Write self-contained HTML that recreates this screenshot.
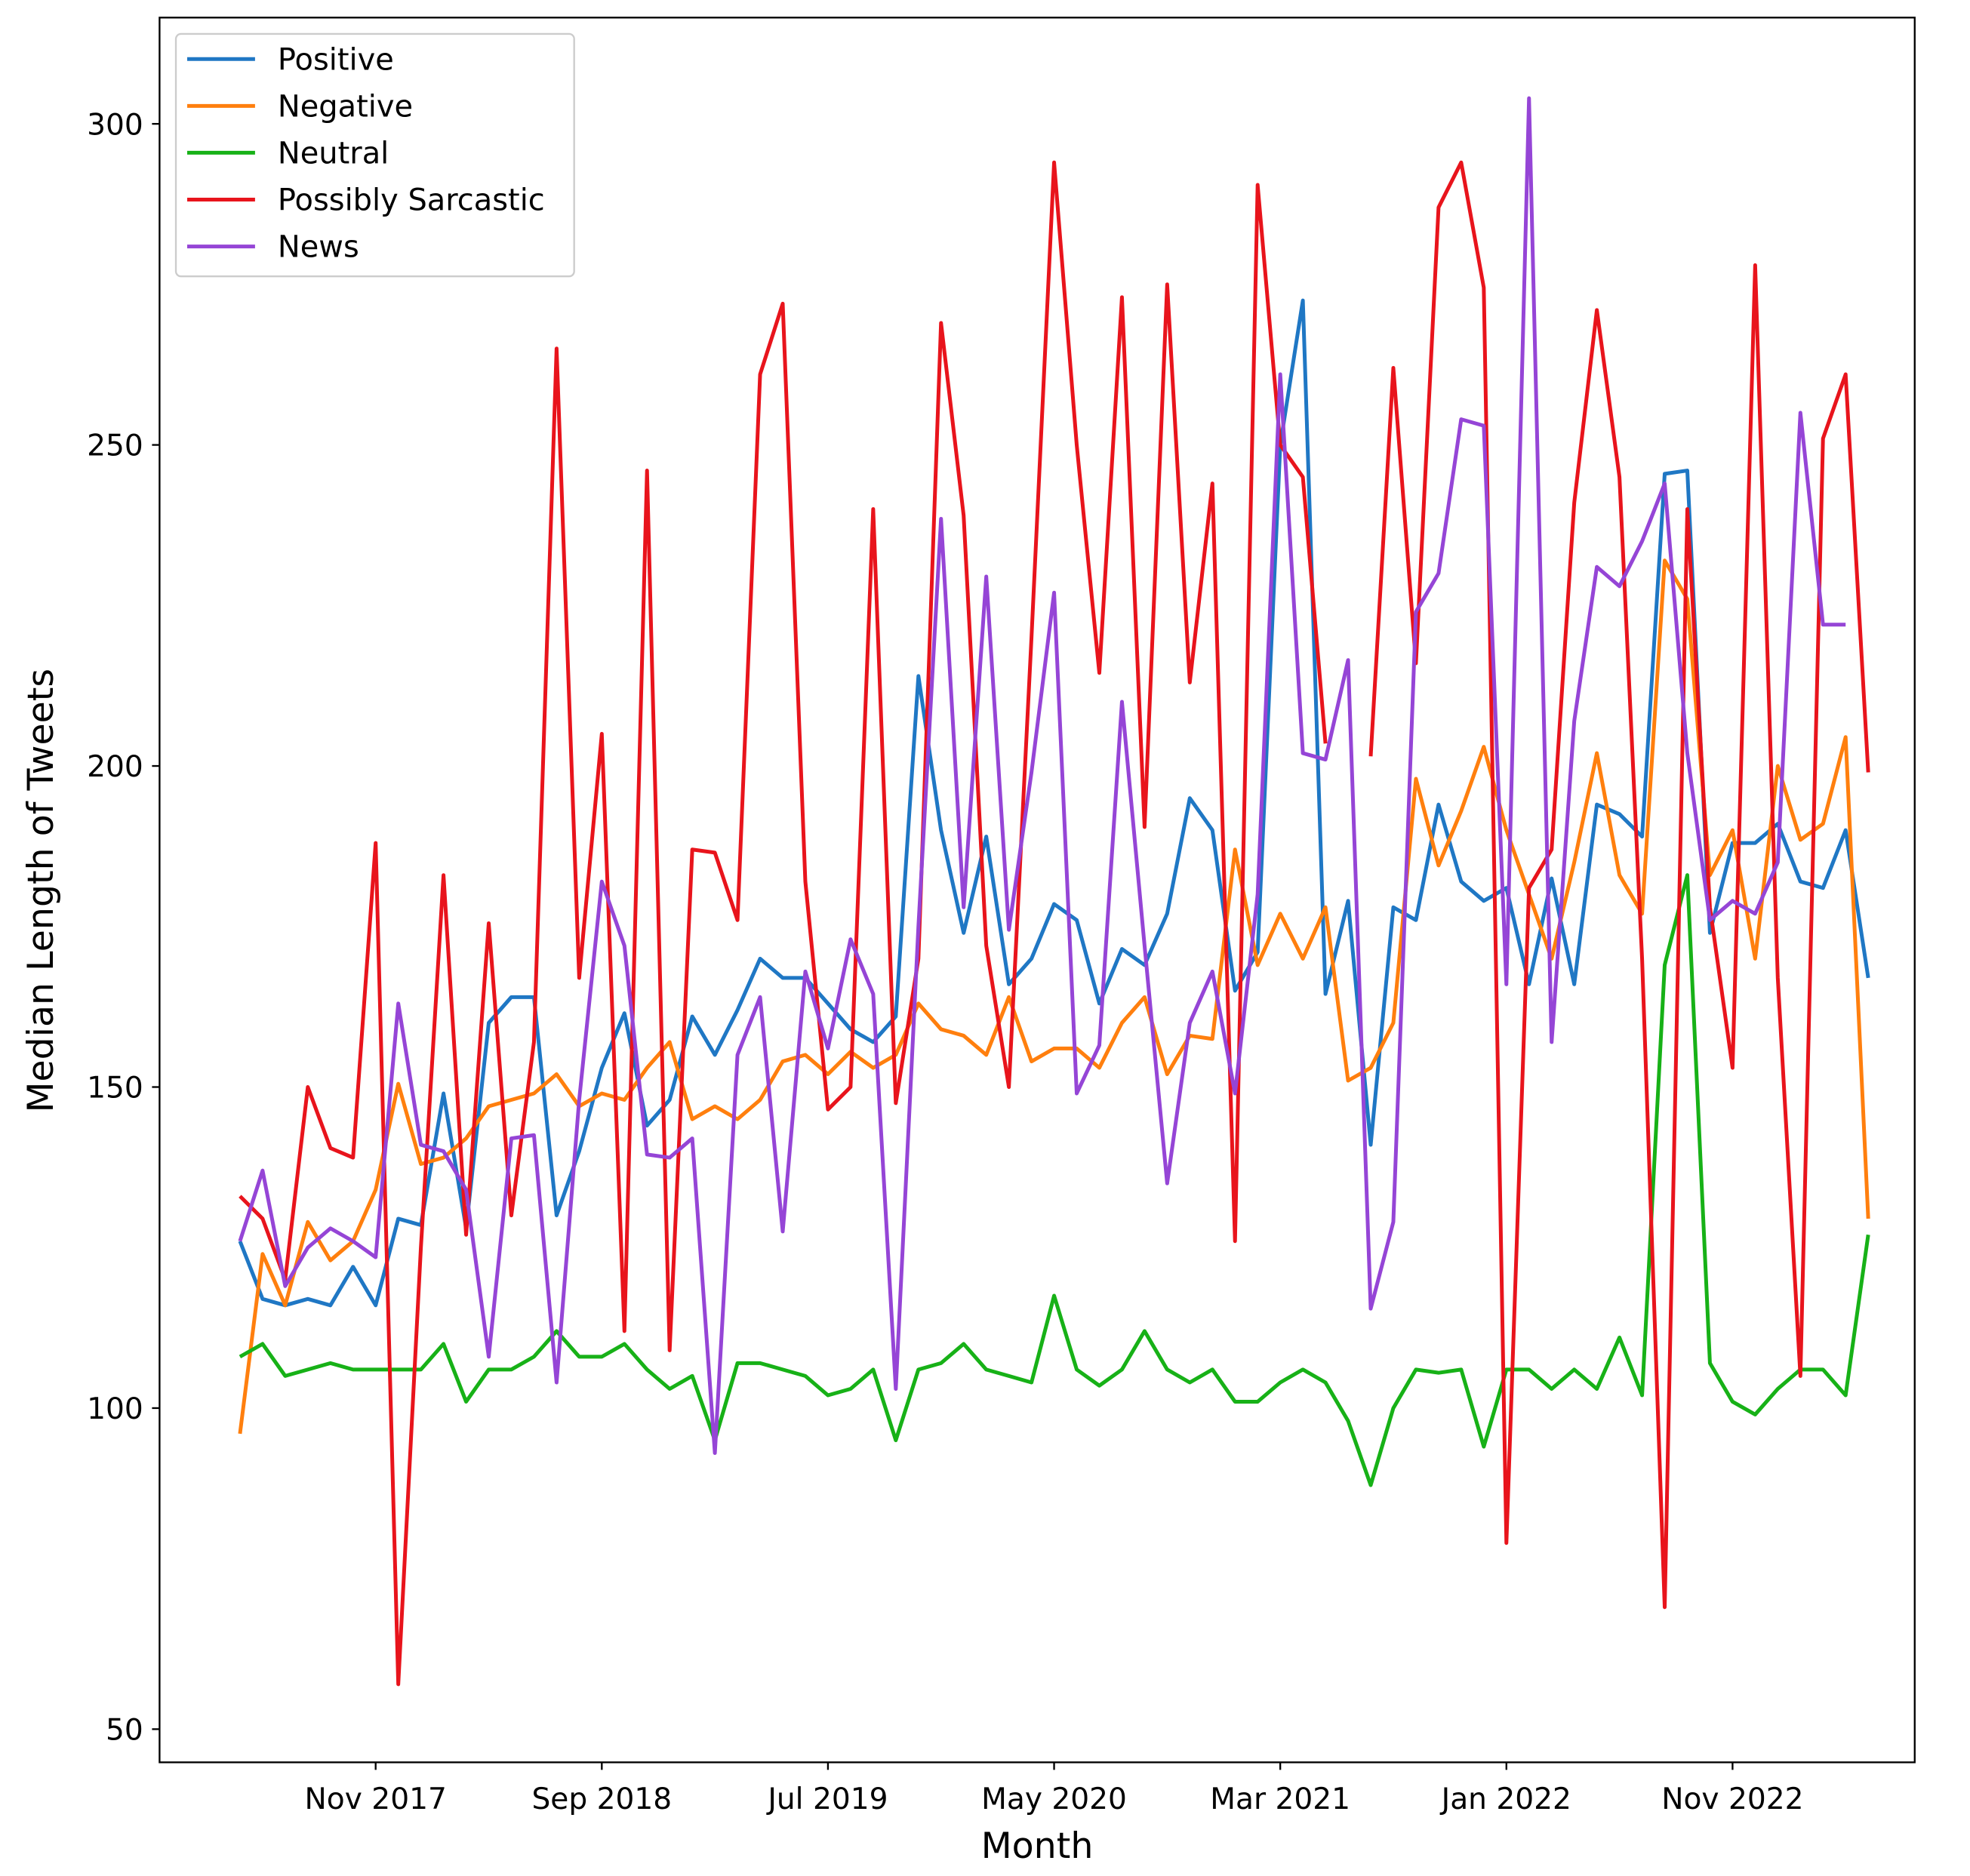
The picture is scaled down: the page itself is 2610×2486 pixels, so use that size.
<!DOCTYPE html>
<html><head><meta charset="utf-8"><style>
html,body{margin:0;padding:0;background:#fff;}
svg{display:block;font-family:"DejaVu Sans","Liberation Sans",sans-serif;}
</style></head><body>
<svg id="chart" width="2610" height="2486" viewBox="0 0 1568 1493.5" xmlns="http://www.w3.org/2000/svg">
<rect x="0" y="0" width="1568" height="1494" fill="#fff"/>
<g id="plot"></g>
</svg>
<script>
const xTickLabels = ["Nov 2017","Sep 2018","Jul 2019","May 2020","Mar 2021","Jan 2022","Nov 2022"];
const xTickIndex = [6,16,26,36,46,56,66];
const yTicks = [50,100,150,200,250,300];
const seriesNames = ["Positive","Negative","Neutral","Possibly Sarcastic","News"];
const positive = [126,117,116,117,116,122,116,129.5,128.5,149,128,160,164,164,130,140,153,161.5,144,148,161,155,162,170,167,167,163,159,157,161,214,190,174,189,166,170,178.5,176,163,171.5,169,177,195,190,165,171,250,272.5,164.5,179,141,178,176,194,182,179,181,166,182.5,166,194,192.5,189,245.5,246,174,188,188,191,182,181,190,167];
const negative = [96,124,116,129,123,126,134,150.5,138,139,142,147,148,149,152,147,149,148,153,157,145,147,145,148,154,155,152,155.5,153,155,163,159,158,155,164,154,156,156,153,160,164,152,158,157.5,187,169,177,170,178,151,153,160,198,184.5,193,203,190,180,170,185,202,183,177,232,226,183,190,170,200,188.5,191,204.5,129.5];
const neutral = [108,110,105,106,107,106,106,106,106,110,101,106,106,108,112,108,108,110,106,103,105,95,107,107,106,105,102,103,106,95,106,107,110,106,105,104,117.5,106,103.5,106,112,106,104,106,101,101,104,106,104,98,88,100,106,105.5,106,94,106,106,103,106,103,111,102,169,183,107,101,99,103,106,106,102,127];
const sarcastic = [133,129.5,120,150,140.5,139,188,57,125,183,127,175.5,130,157,265,167,205,112,246,109,187,186.5,176,261,272,182,146.5,150,240,147.5,170,269,239,172,150,220,294,250,214.5,273,190.5,275,213,244,126,290.5,250,245,203.5,null,201.5,262,216,287,294,274.5,79,181,187,241,271,245,170,69,240,178,153,278,167,105,251,261,199];
const news = [126,137,119,125,128,126,123.5,163,141,140,134,108,142,142.5,104,148,182,172,139.5,139,142,93,155,164,127.5,168,156,173,164.5,103,175,238.5,178,229.5,174.5,199,227,149,156.5,210,172,135,160,168,149,180,261,202,201,216.5,115.5,129,224,230,254,253,166,304,157,207,231,228,235,244,202,176,179,177,185,255,222,222,null];
const seriesData = [positive,negative,neutral,sarcastic,news];
const colors = ["#1f77c4","#ff7f0e","#17b117","#e8141c","#9545d6"];

const L=127,R=1524,T=14,B=1403;
const x = i => 191 + 18*i;
const y = v => 1121 - (v-100)*5.112;
const NS="http://www.w3.org/2000/svg";
const g=document.getElementById('plot');
function mk(tag,attrs,parent){const e=document.createElementNS(NS,tag);for(const k in attrs)e.setAttribute(k,attrs[k]);(parent||g).appendChild(e);return e;}

seriesData.forEach((d,s)=>{
  let segs=[],cur=[];
  d.forEach((v,i)=>{ if(v===null){ if(cur.length)segs.push(cur); cur=[]; } else cur.push(x(i).toFixed(1)+","+y(v).toFixed(1)); });
  if(cur.length)segs.push(cur);
  segs.forEach(sg=>{
    const p=mk('polyline',{points:sg.join(' '),fill:'none',stroke:colors[s],'stroke-width':3,'stroke-linejoin':'round'});
    
    
  });
});

const fr=mk('rect',{x:L,y:T,width:R-L,height:B-T,fill:'none',stroke:'#000','stroke-width':1.4});



yTicks.forEach(v=>{
  mk('line',{x1:L-6,x2:L,y1:y(v),y2:y(v),stroke:'#000','stroke-width':1.4});
  const t=mk('text',{x:L-13,y:y(v)+8.5,'text-anchor':'end','font-size':23.5,fill:'#000'});
  t.textContent=v;
  
  
});
xTickIndex.forEach((idx,k)=>{
  mk('line',{x1:x(idx),x2:x(idx),y1:B,y2:B+6,stroke:'#000','stroke-width':1.4});
  const t=mk('text',{x:x(idx),y:B+37,'text-anchor':'middle','font-size':23.5,fill:'#000'});
  t.textContent=xTickLabels[k];
  
  
});
const xt=mk('text',{x:(L+R)/2,y:1479,'text-anchor':'middle','font-size':28.5,fill:'#000'});
xt.textContent='Month';


const yt=mk('text',{x:0,y:0,'text-anchor':'middle','font-size':28.5,fill:'#000',transform:'translate(42,709) rotate(-90)'});
yt.textContent='Median Length of Tweets';



const lg=mk('g',{});


mk('rect',{x:140,y:27,width:317,height:193,rx:4,fill:'#fff','fill-opacity':0.85,stroke:'#ccc','stroke-width':1.4},lg);
seriesNames.forEach((n,s)=>{
  const yy=47+37.3*s;
  const en=mk('g',{},lg);
  
  
  mk('line',{x1:149,x2:203,y1:yy,y2:yy,stroke:colors[s],'stroke-width':3},en);
  const t=mk('text',{x:221,y:yy+8.5,'font-size':24,fill:'#000'},en);
  t.textContent=n;
});
</script>
</body></html>
